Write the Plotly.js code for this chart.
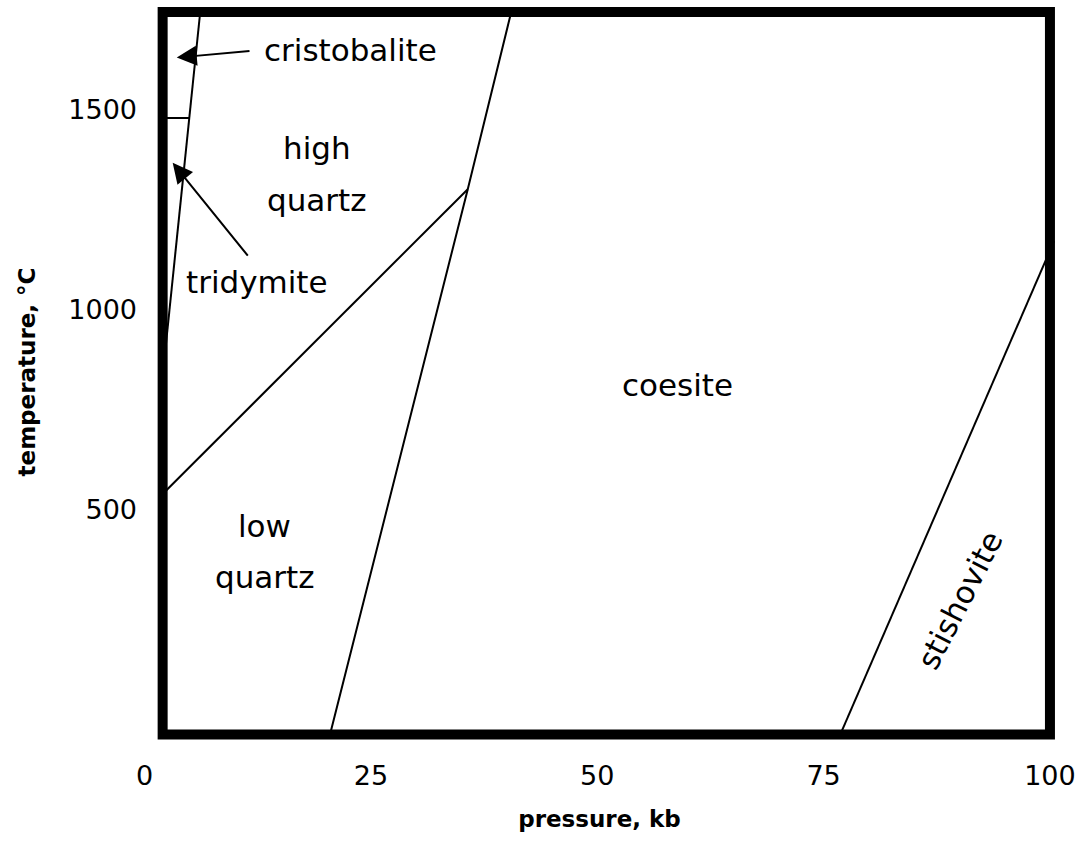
<!DOCTYPE html>
<html><head><meta charset="utf-8">
<script src="https://cdn.plot.ly/plotly-3.0.1.min.js"></script>
<style>html,body{margin:0;padding:0;background:#fff;} #chart{width:1076px;height:843px;}</style>
</head><body><div id="chart"></div>
<script>
// Phase boundaries of SiO2 (pressure in kb, temperature in °C)
const quartzCoesiteP = [20.5, 35.7, 40.5];
const quartzCoesiteT = [-60, 1302, 1745];
const lowHighQuartzP = [2.0, 35.7];
const lowHighQuartzT = [540, 1302];
const tridymiteQuartzP = [2.3, 6.15];
const tridymiteQuartzT = [900, 1745];
const tridymiteCristobaliteP = [2.0, 4.94];
const tridymiteCristobaliteT = [1480, 1480];
const coesiteStishoviteP = [76.85, 100.45];
const coesiteStishoviteT = [-61, 1172];

// Axis ticks
const xTickVals = [0, 25, 50, 75, 100];
const xTickText = ['0', '25', '50', '75', '100'];
const yTickVals = [500, 1000, 1500];
const yTickText = ['500', '1000', '1500'];

// Phase field names
const phaseNames = ['cristobalite', 'high', 'quartz', 'tridymite', 'low', 'quartz', 'coesite', 'stishovite'];

const boundaries = [
  [quartzCoesiteP, quartzCoesiteT],
  [lowHighQuartzP, lowHighQuartzT],
  [tridymiteQuartzP, tridymiteQuartzT],
  [tridymiteCristobaliteP, tridymiteCristobaliteT],
  [coesiteStishoviteP, coesiteStishoviteT]
];

const traces = boundaries.map(b => ({
  type: 'scatter', mode: 'lines', x: b[0], y: b[1],
  line: {color: '#000', width: 2}, hoverinfo: 'skip', showlegend: false
}));

// label placement (layout only)
const labelPos = [
  [22.77, 1650, 0], [19.07, 1405, 0], [19.0, 1275, 0], [12.44, 1070, 0],
  [13.25, 460, 0], [13.27, 332, 0], [58.9, 812, 0], [90.06, 275, -63]
];
const annotations = phaseNames.map((name, i) => ({
  x: labelPos[i][0], y: labelPos[i][1], xref: 'x', yref: 'y',
  text: name, showarrow: false, textangle: labelPos[i][2],
  xanchor: 'center', yanchor: 'middle',
  font: {family: 'DejaVu Sans', size: 31, color: '#000'}
}));
// arrows pointing to the narrow cristobalite and tridymite fields
const arrows = [
  {tip: [3.56, 1631], tail: [11.76, 1648]},
  {tip: [3.11, 1368], tail: [11.54, 1132]}
];
arrows.forEach(a => annotations.push({
  x: a.tip[0], y: a.tip[1], ax: a.tail[0], ay: a.tail[1],
  xref: 'x', yref: 'y', axref: 'x', ayref: 'y',
  text: '', showarrow: true, arrowhead: 2, arrowsize: 2, arrowwidth: 2,
  arrowcolor: '#000', standoff: 0, startstandoff: 0
}));

const layout = {
  width: 1076, height: 843,
  margin: {l: 140, r: 17, t: 2, b: 101, pad: 0},
  paper_bgcolor: '#fff', plot_bgcolor: '#fff',
  showlegend: false,
  font: {family: 'DejaVu Sans', color: '#000'},
  xaxis: {
    range: [-0.5, 101], showgrid: false, zeroline: false, showline: false,
    ticks: '', tickvals: xTickVals, ticktext: xTickText,
    tickfont: {family: 'DejaVu Sans', size: 27, color: '#000'},
    ticklabelstandoff: 15, fixedrange: true,
    title: {text: 'pressure, kb', font: {family: 'DejaVu Sans', size: 23, weight: 'bold', color: '#000'}, standoff: 20}
  },
  yaxis: {
    range: [-80, 1770], showgrid: false, zeroline: false, showline: false,
    ticks: '', tickvals: yTickVals, ticktext: yTickText,
    tickfont: {family: 'DejaVu Sans', size: 27, color: '#000'},
    ticklabelstandoff: 2, fixedrange: true,
    title: {text: 'temperature, °C', font: {family: 'DejaVu Sans', size: 23, weight: 'bold', color: '#000'}, standoff: 26}
  },
  shapes: [{
    type: 'rect', xref: 'x', yref: 'y', x0: 2.0, x1: 100, y0: -61, y1: 1745,
    line: {color: '#000', width: 10}, fillcolor: 'rgba(0,0,0,0)', layer: 'above'
  }],
  annotations: annotations
};

Plotly.newPlot('chart', traces, layout, {staticPlot: true, displayModeBar: false});
</script>
</body></html>
